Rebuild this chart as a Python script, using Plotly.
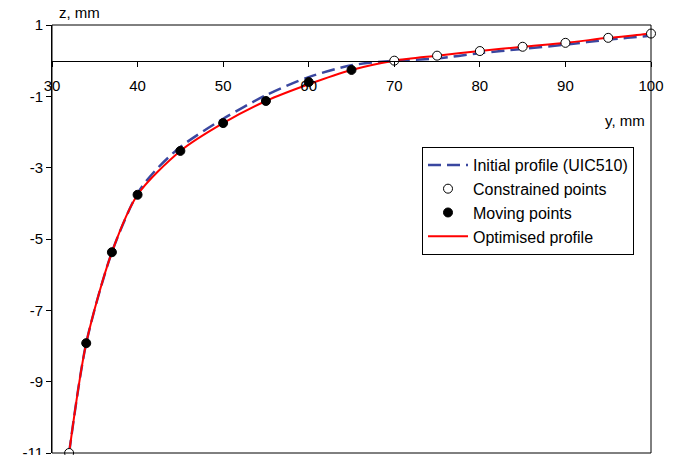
import plotly.graph_objects as go

# Data
constrained_y = [32, 70, 75, 80, 85, 90, 95, 100]
constrained_z = [-11.0, 0.0, 0.14, 0.27, 0.39, 0.50, 0.64, 0.76]

moving_y = [34, 37, 40, 45, 50, 55, 60, 65]
moving_z = [-7.92, -5.37, -3.76, -2.53, -1.75, -1.13, -0.60, -0.26]

optimised_y = [32, 34, 37, 40, 45, 50, 55, 60, 65, 70, 75, 80, 85, 90, 95, 100, 100.7]
optimised_z = [-11.0, -7.92, -5.37, -3.76, -2.53, -1.75, -1.13, -0.66, -0.26, 0.0, 0.14, 0.27, 0.39, 0.50, 0.64, 0.76, 0.79]

initial_y = [32, 34, 37, 40, 42, 45, 50, 55, 60, 65, 70, 75, 80, 85, 90, 95, 100, 100.7]
initial_z = [-11.0, -7.92, -5.37, -3.72, -3.10, -2.42, -1.63, -0.97, -0.46, -0.13, 0.0, 0.06, 0.21, 0.33, 0.45, 0.59, 0.70, 0.72]

x_ticks = [30, 40, 50, 60, 70, 80, 90, 100]
y_ticks = [1, -1, -3, -5, -7, -9, -11]
y_tick_text = ["1", "-1", "-3", "-5", "-7", "-9", "-11"]

FONT = "Liberation Sans, Arial, sans-serif"

fig = go.Figure()
fig.add_trace(go.Scatter(
    x=initial_y, y=initial_z, mode="lines", name="Initial profile (UIC510)",
    line=dict(color="#3a47a0", width=2.5, dash="13px,6px", shape="spline", smoothing=0.8),
    legendrank=1, cliponaxis=False))
fig.add_trace(go.Scatter(
    x=optimised_y, y=optimised_z, mode="lines", name="Optimised profile",
    line=dict(color="#ff0000", width=2, shape="spline", smoothing=0.8),
    legendrank=4, cliponaxis=False))
fig.add_trace(go.Scatter(
    x=constrained_y, y=constrained_z, mode="markers", name="Constrained points",
    marker=dict(symbol="circle", size=9, color="white", line=dict(color="black", width=1)),
    legendrank=2, cliponaxis=False))
fig.add_trace(go.Scatter(
    x=moving_y, y=moving_z, mode="markers", name="Moving points",
    marker=dict(symbol="circle", size=9, color="black", line=dict(color="black", width=1)),
    legendrank=3, cliponaxis=False))

fig.update_layout(
    width=678, height=455,
    margin=dict(l=52, r=27, t=25, b=2, autoexpand=False),
    paper_bgcolor="white", plot_bgcolor="white",
    font=dict(family=FONT, size=15, color="black"),
    showlegend=True,
    legend=dict(x=0.6177, y=0.715, xanchor="left", yanchor="top",
                bordercolor="black", borderwidth=1, bgcolor="white",
                itemwidth=40,
                font=dict(size=16, family=FONT)),
    xaxis=dict(range=[30, 100], tickvals=x_ticks, ticks="outside", ticklen=5,
               tickcolor="black", showline=True, linecolor="black", linewidth=1,
               showgrid=False, zeroline=False, anchor="free", position=11/12,
               ticklabelstandoff=6, tickfont=dict(size=15), automargin=False),
    yaxis=dict(range=[-11, 1], tickvals=y_ticks, ticktext=y_tick_text,
               ticks="outside", ticklen=5, ticklabeloverflow="allow",
               tickcolor="black", showline=True, linecolor="black", linewidth=1,
               showgrid=False, zeroline=False, tickfont=dict(size=15),
               automargin=False),
    shapes=[dict(type="rect", xref="paper", yref="paper", x0=0, x1=1, y0=0, y1=1,
                 line=dict(color="black", width=1), layer="above")],
    annotations=[
        dict(text="z, mm", xref="x", yref="y", x=30.6, y=1, xanchor="left",
             yanchor="bottom", showarrow=False, yshift=2, font=dict(size=15)),
        dict(text="y, mm", xref="x", yref="y", x=99.5, y=-1.69, xanchor="right",
             yanchor="middle", showarrow=False, font=dict(size=15)),
    ],
)

fig.write_html("out.html")
